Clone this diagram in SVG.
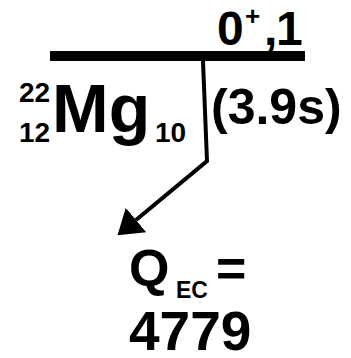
<svg xmlns="http://www.w3.org/2000/svg" width="351" height="358" viewBox="0 0 351 358">
  <style>
    text { font-family: "Liberation Sans", Arial, Helvetica, sans-serif; font-weight: bold; fill: #000; }
  </style>
  <defs>
    <marker id="ah" markerWidth="6" markerHeight="8" refX="0" refY="4" orient="auto" markerUnits="strokeWidth">
      <path d="M0,0 L6,4 L0,8 Z" fill="#000"/>
    </marker>
  </defs>
  <rect width="351" height="358" fill="#fff"/>
  <g id="level">
    <rect x="50" y="51" width="255" height="10" fill="#000"/>
    <text x="217" y="45" font-size="48">0</text>
    <text x="245" y="25" font-size="26">+</text>
    <text x="264" y="45" font-size="48">,</text>
    <text x="276" y="45" font-size="48">1</text>
  </g>
  <g id="nucleus">
    <text x="19" y="102" font-size="28">22</text>
    <text x="19" y="142" font-size="28">12</text>
    <text x="52" y="132" font-size="68">Mg</text>
    <text x="155" y="142" font-size="28">10</text>
  </g>
  <g id="halflife">
    <text x="211" y="124" font-size="50">(3.9s)</text>
  </g>
  <g id="connectors">
    <polyline points="203,61 207,161 136,220" fill="none" stroke="#000" stroke-width="4" stroke-linejoin="miter" marker-end="url(#ah)"/>
  </g>
  <g id="qvalue">
    <text x="129" y="286" font-size="52">Q</text>
    <text x="176" y="298" font-size="23">EC</text>
    <text x="216" y="286" font-size="52">=</text>
    <text x="129" y="350" font-size="55">4779</text>
  </g>
</svg>
